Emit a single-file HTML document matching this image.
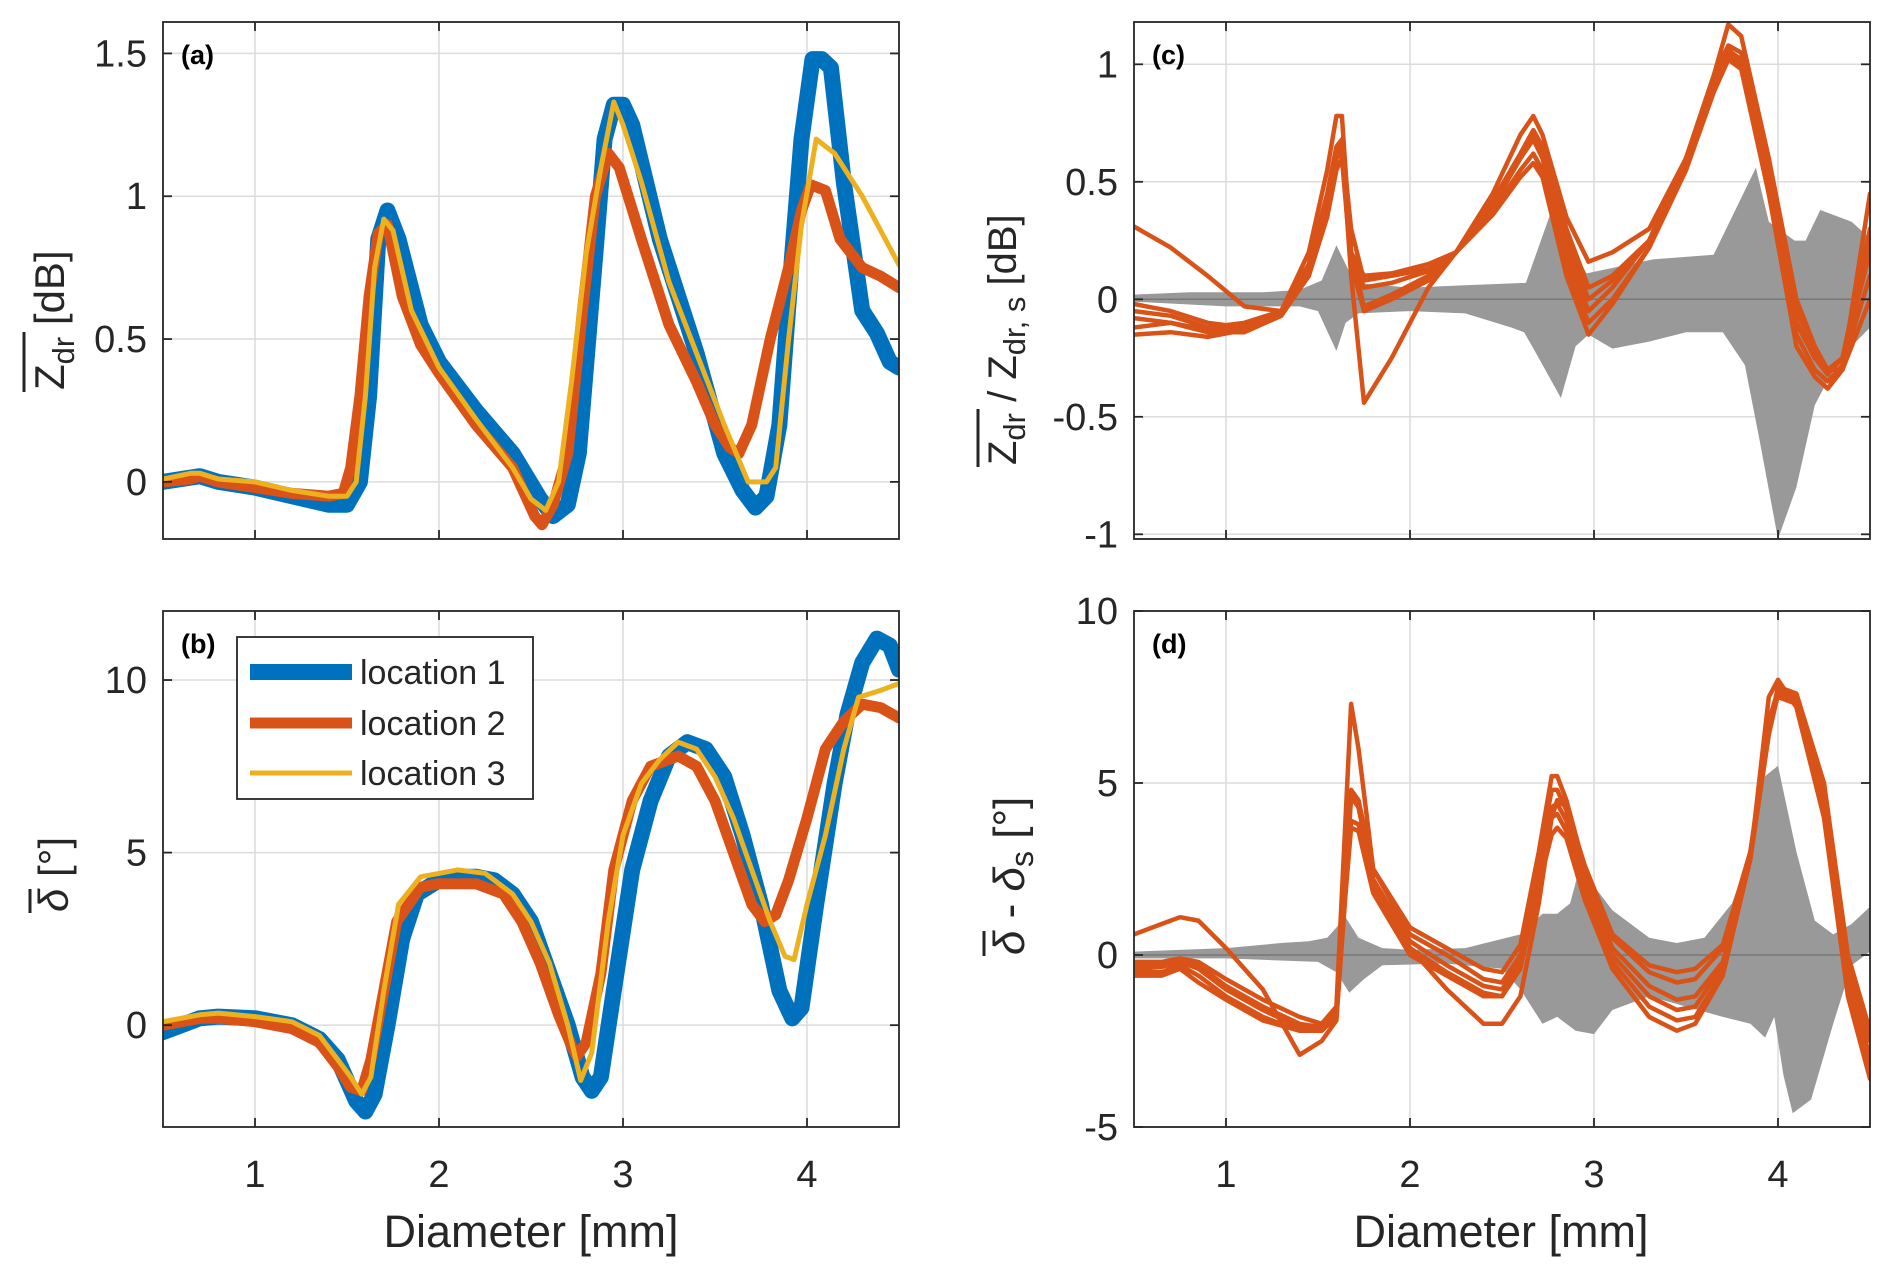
<!DOCTYPE html>
<html><head><meta charset="utf-8"><style>
html,body{margin:0;padding:0;background:#fff;}
svg{display:block;font-family:"Liberation Sans",Arial,sans-serif;}
</style></head><body>
<svg id="chart" width="1892" height="1277" viewBox="0 0 1892 1277" xmlns="http://www.w3.org/2000/svg"></svg>
<script>
// ---------- data ----------
const aD1 = [0.5,0.7,0.8,1.0,1.2,1.4,1.5,1.57,1.62,1.67,1.72,1.78,1.9,2.0,2.2,2.4,2.55,2.62,2.7,2.76,2.85,2.9,2.95,3.0,3.05,3.2,3.4,3.55,3.65,3.72,3.78,3.85,3.92,3.97,4.03,4.08,4.13,4.2,4.3,4.38,4.45,4.5];
const aLoc1 = [0,0.02,0,-0.02,-0.05,-0.08,-0.08,0,0.3,0.85,0.95,0.85,0.55,0.42,0.25,0.1,-0.06,-0.12,-0.08,0.1,0.8,1.2,1.32,1.32,1.25,0.85,0.45,0.1,-0.03,-0.09,-0.05,0.2,0.8,1.2,1.48,1.48,1.45,1.05,0.6,0.52,0.42,0.4];
const aD2 = [0.5,0.65,0.7,0.8,1.0,1.2,1.4,1.48,1.52,1.57,1.62,1.67,1.72,1.8,1.9,2.0,2.2,2.4,2.52,2.56,2.62,2.7,2.78,2.85,2.92,2.98,3.1,3.25,3.4,3.5,3.58,3.63,3.7,3.8,3.9,3.97,4.02,4.1,4.18,4.3,4.4,4.5];
const aLoc2 = [0,0.01,0.02,0,-0.02,-0.04,-0.05,-0.04,0.05,0.3,0.65,0.87,0.9,0.65,0.48,0.38,0.2,0.05,-0.12,-0.15,-0.08,0.1,0.6,1.0,1.15,1.1,0.85,0.55,0.35,0.2,0.12,0.1,0.2,0.5,0.75,0.95,1.04,1.02,0.85,0.75,0.72,0.68];
const aD3 = [0.5,0.65,0.7,0.8,1.0,1.2,1.4,1.5,1.55,1.6,1.65,1.7,1.75,1.85,2.0,2.2,2.4,2.5,2.58,2.65,2.72,2.8,2.88,2.95,3.0,3.1,3.25,3.4,3.55,3.68,3.78,3.83,3.9,3.97,4.05,4.15,4.3,4.5];
const aLoc3 = [0.01,0.03,0.03,0.01,0,-0.03,-0.05,-0.05,0,0.3,0.75,0.92,0.88,0.6,0.4,0.22,0.05,-0.06,-0.1,0,0.35,0.8,1.1,1.33,1.25,1.05,0.7,0.45,0.2,0,0,0.05,0.5,0.9,1.2,1.15,1.0,0.76];

const bD1 = [0.5,0.6,0.7,0.8,1.0,1.2,1.35,1.45,1.55,1.6,1.65,1.72,1.8,1.88,2.0,2.1,2.2,2.3,2.4,2.5,2.6,2.7,2.78,2.83,2.88,2.95,3.05,3.15,3.25,3.35,3.45,3.55,3.65,3.75,3.85,3.92,3.97,4.05,4.15,4.22,4.3,4.38,4.45,4.5];
const bLoc1 = [-0.2,0,0.2,0.25,0.2,0,-0.4,-1,-2.2,-2.5,-2,0,2.5,3.8,4.2,4.3,4.3,4.2,3.8,3,1.5,0,-1.5,-1.9,-1.5,1,4.5,6.5,7.8,8.2,8,7.2,5.5,3.5,1,0.2,0.5,3.5,7,9,10.5,11.2,11,10.3];
const bD2 = [0.5,0.7,0.8,1.0,1.2,1.35,1.45,1.52,1.58,1.63,1.7,1.77,1.9,2.0,2.2,2.35,2.45,2.55,2.65,2.72,2.75,2.8,2.88,2.95,3.05,3.15,3.3,3.4,3.5,3.6,3.7,3.77,3.83,3.9,4.0,4.1,4.2,4.3,4.4,4.5];
const bLoc2 = [0,0.2,0.2,0.1,-0.1,-0.5,-1.2,-1.8,-1.9,-1,1,3,4,4.1,4.1,3.8,3,1.8,0.3,-0.6,-0.9,-0.5,1.5,4.5,6.5,7.5,7.8,7.5,6.5,5,3.5,3,3.2,4.2,6,8,8.8,9.3,9.2,8.9];
const bD3 = [0.5,0.7,0.8,1.0,1.2,1.35,1.45,1.52,1.58,1.63,1.7,1.78,1.9,2.1,2.25,2.4,2.5,2.6,2.7,2.77,2.83,2.92,3.0,3.1,3.2,3.3,3.4,3.5,3.6,3.7,3.8,3.88,3.93,4.0,4.1,4.2,4.28,4.4,4.5];
const bLoc3 = [0.1,0.3,0.35,0.25,0.1,-0.3,-1,-1.5,-2,-1.5,1,3.5,4.3,4.5,4.4,3.8,3,1.8,0,-1.6,-0.8,3,5.5,7,7.7,8.2,8,7.2,6,4.5,3,2,1.9,3.5,5.5,8,9.5,9.7,9.9];

const cD = [0.5,0.7,0.9,1.1,1.3,1.45,1.55,1.6,1.63,1.68,1.75,1.9,2.1,2.25,2.45,2.6,2.67,2.72,2.85,2.97,3.1,3.3,3.5,3.65,3.73,3.8,3.95,4.1,4.2,4.27,4.35,4.5];
const cRun1 = [-0.02,-0.05,-0.1,-0.12,-0.05,0.2,0.55,0.78,0.78,0.2,0.1,0.11,0.15,0.2,0.45,0.7,0.78,0.7,0.35,0.16,0.2,0.3,0.6,0.95,1.17,1.12,0.6,0.0,-0.2,-0.3,-0.3,0.45];
const cRun2 = [-0.05,-0.07,-0.12,-0.1,-0.05,0.15,0.45,0.65,0.68,0.3,0.08,0.1,0.13,0.2,0.42,0.62,0.72,0.65,0.3,0.05,0.1,0.25,0.6,0.95,1.08,1.05,0.55,-0.05,-0.22,-0.3,-0.25,0.3];
const cRun3 = [-0.08,-0.1,-0.13,-0.12,-0.06,0.12,0.4,0.6,0.65,0.2,-0.03,0.02,0.1,0.2,0.4,0.6,0.68,0.6,0.2,-0.05,0.05,0.25,0.6,0.9,1.05,1.02,0.5,-0.1,-0.25,-0.32,-0.25,0.2];
const cRun4 = [-0.12,-0.1,-0.14,-0.14,-0.07,0.1,0.35,0.55,0.6,0.15,-0.05,0.0,0.08,0.2,0.38,0.55,0.62,0.55,0.15,-0.1,0.0,0.22,0.58,0.9,1.03,1.0,0.45,-0.15,-0.3,-0.35,-0.28,0.1];
const cRun5 = [-0.15,-0.14,-0.16,-0.13,-0.06,0.1,0.38,0.6,0.63,0.2,0.05,0.07,0.12,0.2,0.36,0.52,0.58,0.52,0.1,-0.15,-0.02,0.22,0.55,0.88,1.02,0.98,0.45,-0.2,-0.33,-0.38,-0.3,0.0];
const cRun6 = [0.31,0.22,0.1,-0.03,-0.05,0.12,0.38,0.6,0.66,0.1,-0.44,-0.25,0.05,0.2,0.4,0.6,0.7,0.62,0.25,0.0,0.08,0.25,0.6,0.92,1.06,1.02,0.5,-0.1,-0.25,-0.3,-0.25,0.25];
const cBandUD = [0.5,0.8,1.2,1.4,1.52,1.6,1.65,1.7,2.0,2.3,2.63,2.77,2.96,3.32,3.65,3.88,3.95,4.09,4.15,4.23,4.4,4.5];
const cBandU = [0.02,0.03,0.03,0.04,0.08,0.23,0.15,0.07,0.05,0.06,0.07,0.38,0.11,0.17,0.19,0.56,0.33,0.25,0.25,0.38,0.33,0.26];
const cBandLD = [0.5,1.0,1.4,1.5,1.6,1.65,1.72,2.0,2.3,2.55,2.62,2.7,2.82,2.9,2.97,3.1,3.3,3.5,3.7,3.82,3.9,4.0,4.1,4.2,4.3,4.4,4.5];
const cBandL = [-0.01,-0.03,-0.03,-0.05,-0.22,-0.1,-0.06,-0.05,-0.06,-0.12,-0.14,-0.25,-0.42,-0.2,-0.15,-0.21,-0.18,-0.14,-0.14,-0.28,-0.6,-1.02,-0.8,-0.45,-0.3,-0.2,-0.12];

const dD = [0.5,0.65,0.75,0.85,1.0,1.2,1.4,1.52,1.6,1.65,1.68,1.72,1.8,2.0,2.2,2.4,2.5,2.6,2.7,2.77,2.8,2.85,2.95,3.1,3.3,3.45,3.55,3.7,3.85,3.95,4.0,4.1,4.25,4.38,4.5];
const dRun1 = [-0.2,-0.2,-0.1,-0.2,-0.7,-1.3,-1.8,-2.0,-1.5,4,7.3,6,2.5,0.8,0.2,-0.4,-0.5,0.3,3,5.2,5.2,4.5,2.5,0.5,-0.5,-0.8,-0.7,0.2,3,6.5,7.8,7.6,5,0,-2.2];
const dRun2 = [-0.3,-0.25,-0.1,-0.3,-0.9,-1.5,-2.0,-2.1,-1.6,2.5,4.8,4.5,2.5,0.6,0.0,-0.7,-0.8,0,2.8,4.8,4.8,4.2,2.2,0.2,-0.9,-1.3,-1.2,-0.2,3,6.5,7.6,7.5,4.5,-0.5,-3.0];
const dRun3 = [-0.4,-0.35,-0.2,-0.4,-1.0,-1.6,-2.1,-2.2,-1.7,2.5,4.6,4.3,2.2,0.4,-0.3,-0.9,-1.0,-0.2,2.5,4.3,4.4,3.9,2,0,-1.2,-1.6,-1.5,-0.3,2.8,6.4,7.6,7.4,4.2,-0.8,-3.3];
const dRun4 = [-0.5,-0.5,-0.3,-0.6,-1.2,-1.8,-2.2,-2.2,-1.8,2,3.9,3.8,2,0.2,-0.5,-1.1,-1.2,-0.3,2.3,4.0,4.1,3.6,1.8,-0.2,-1.5,-1.9,-1.8,-0.5,2.8,6.8,7.5,7.3,4,-1.0,-3.5];
const dRun5 = [-0.6,-0.6,-0.4,-0.8,-1.3,-1.9,-2.2,-2.0,-1.8,1.8,3.7,3.6,1.8,0.0,-0.6,-1.2,-1.2,-0.4,2,3.5,3.7,3.4,1.6,-0.4,-1.8,-2.2,-2.0,-0.6,2.8,7.5,8.0,7.2,4,-1.2,-3.6];
const dRun6 = [0.6,0.9,1.1,1.0,0.2,-1.0,-2.9,-2.5,-1.9,2,4.6,4.3,2.2,0.2,-1.0,-2.0,-2.0,-1.2,1.5,4.0,4.5,4.3,2.6,0.6,-0.3,-0.5,-0.4,0.3,3.0,6.8,7.7,7.4,4.5,-0.3,-2.5];
const dBandUD = [0.5,1.0,1.3,1.45,1.55,1.65,1.72,1.85,2.0,2.3,2.6,2.72,2.8,2.87,2.92,3.0,3.1,3.3,3.45,3.6,3.75,3.85,3.93,4.0,4.1,4.2,4.3,4.4,4.5];
const dBandU = [0.1,0.2,0.35,0.4,0.5,1.1,0.5,0.2,0.15,0.2,0.6,1.2,1.2,1.5,2.5,2.0,1.3,0.5,0.35,0.5,1.5,3.0,5.2,5.5,3,1.0,0.6,0.9,1.4];
const dBandLD = [0.5,1.0,1.5,1.6,1.67,1.75,1.85,2.2,2.5,2.6,2.72,2.8,2.9,3.0,3.1,3.3,3.5,3.7,3.85,3.93,3.98,4.03,4.08,4.18,4.3,4.4,4.5];
const dBandL = [-0.1,-0.1,-0.2,-0.5,-1.1,-0.7,-0.3,-0.25,-0.4,-1.0,-2.0,-1.8,-2.2,-2.3,-1.6,-1.2,-1.5,-1.8,-2.0,-2.4,-1.8,-3.5,-4.6,-4.2,-2,-0.3,0.1];

const xTicks = [1,2,3,4];
const aTicks = [0,0.5,1,1.5], aTickLabels = ["0","0.5","1","1.5"];
const bTicks = [0,5,10], bTickLabels = ["0","5","10"];
const cTicks = [-1,-0.5,0,0.5,1], cTickLabels = ["-1","-0.5","0","0.5","1"];
const dTicks = [-5,0,5,10], dTickLabels = ["-5","0","5","10"];

// ---------- drawing ----------
const NS = "http://www.w3.org/2000/svg";
const svg = document.getElementById('chart');
function el(tag, attrs, parent){ const e=document.createElementNS(NS,tag); for(const k in attrs) e.setAttribute(k,attrs[k]); (parent||svg).appendChild(e); return e; }
const BLUE="#0072BD", RED="#D95319", YEL="#EDB120", GREY="#999999";

function makePanel(name, x0,x1,y0,y1, ymin,ymax, yticks,ylabels, showXLabels, letter){
  const g = el('g',{});
  
  
  const sx = d => x0 + (d-0.5)/4*(x1-x0);
  const sy = v => y1 - (v-ymin)/(ymax-ymin)*(y1-y0);
  const clipId = name+'-clip';
  const cp = el('clipPath',{id:clipId},g); el('rect',{x:x0,y:y0,width:x1-x0,height:y1-y0},cp);
  xTicks.forEach(t=>{ const l=el('line',{x1:sx(t),x2:sx(t),y1:y0,y2:y1,stroke:'#dcdcdc','stroke-width':1.5},g);
      });
  yticks.forEach(t=>{ const l=el('line',{x1:x0,x2:x1,y1:sy(t),y2:sy(t),stroke:'#dcdcdc','stroke-width':1.5},g);
      });
  const plot = el('g',{'clip-path':`url(#${clipId})`},g);
   
  const box = el('rect',{x:x0,y:y0,width:x1-x0,height:y1-y0,fill:'none',stroke:'#262626','stroke-width':1.8},g);
   
  xTicks.forEach(t=>{
    el('line',{x1:sx(t),x2:sx(t),y1:y1,y2:y1-9,stroke:'#262626','stroke-width':1.8},g);
    el('line',{x1:sx(t),x2:sx(t),y1:y0,y2:y0+9,stroke:'#262626','stroke-width':1.8},g);
    if(showXLabels){ const tx=el('text',{x:sx(t),y:y1+60,'font-size':38,'text-anchor':'middle',fill:'#262626'},g); tx.textContent=t;
        }
  });
  yticks.forEach((t,i)=>{
    el('line',{x1:x0,x2:x0+9,y1:sy(t),y2:sy(t),stroke:'#262626','stroke-width':1.8},g);
    el('line',{x1:x1,x2:x1-9,y1:sy(t),y2:sy(t),stroke:'#262626','stroke-width':1.8},g);
    const tx=el('text',{x:x0-16,y:sy(t)+13,'font-size':38,'text-anchor':'end',fill:'#262626'},g); tx.textContent=ylabels[i];
     
  });
  const lt=el('text',{x:x0+18,y:y0+42,'font-size':27,'font-weight':'bold',fill:'#000'},g); lt.textContent=letter;
   
  return {g,plot,sx,sy};
}
function line(p, xs, ys, color, w, name){
  const d = xs.map((x,i)=>(i?'L':'M')+p.sx(x).toFixed(1)+','+p.sy(ys[i]).toFixed(1)).join('');
  const path = el('path',{d, fill:'none', stroke:color, 'stroke-width':w, 'stroke-linejoin':'round','stroke-linecap':'round'}, p.plot);
  
  
}
function band(p, ux, uy, lx, ly, name){
  let d = ux.map((x,i)=>(i?'L':'M')+p.sx(x).toFixed(1)+','+p.sy(uy[i]).toFixed(1)).join('');
  for(let i=lx.length-1;i>=0;i--) d += 'L'+p.sx(lx[i]).toFixed(1)+','+p.sy(ly[i]).toFixed(1);
  const path = el('path',{d:d+'Z', fill:GREY, stroke:'none'}, p.plot);
  
  
}

const A = makePanel('panel-a-zdr', 163,899,22,539, -0.2,1.61, aTicks,aTickLabels,false,'(a)');
line(A,aD1,aLoc1,BLUE,16,'line-location-1');
line(A,aD2,aLoc2,RED,11,'line-location-2');
line(A,aD3,aLoc3,YEL,5,'line-location-3');

const B = makePanel('panel-b-delta', 163,899,611,1127, -2.95,12, bTicks,bTickLabels,true,'(b)');
line(B,bD1,bLoc1,BLUE,16,'line-location-1');
line(B,bD2,bLoc2,RED,11,'line-location-2');
line(B,bD3,bLoc3,YEL,5,'line-location-3');

const C = makePanel('panel-c-zdr-diff', 1134,1870,22,539, -1.02,1.18, cTicks,cTickLabels,false,'(c)');
band(C,cBandUD,cBandU,cBandLD,cBandL,'spread-band');
el('line',{x1:1134,x2:1870,y1:C.sy(0),y2:C.sy(0),stroke:'#777','stroke-width':1.5},C.plot);
[cRun1,cRun2,cRun3,cRun4,cRun5,cRun6].forEach(r=>line(C,cD,r,RED,4.5,'difference-line'));

const Dp = makePanel('panel-d-delta-diff', 1134,1870,611,1127, -5,10, dTicks,dTickLabels,true,'(d)');
band(Dp,dBandUD,dBandU,dBandLD,dBandL,'spread-band');
el('line',{x1:1134,x2:1870,y1:Dp.sy(0),y2:Dp.sy(0),stroke:'#777','stroke-width':1.5},Dp.plot);
[dRun1,dRun2,dRun3,dRun4,dRun5,dRun6].forEach(r=>line(Dp,dD,r,RED,4.5,'difference-line'));
</script>

<svg style="position:absolute;left:0;top:0" width="1892" height="1277" xmlns="http://www.w3.org/2000/svg" font-family="Liberation Sans, Arial, sans-serif" fill="#262626">
  <text x="531" y="1247" font-size="45" text-anchor="middle">Diameter [mm]</text>
  <text x="1501" y="1247" font-size="45" text-anchor="middle">Diameter [mm]</text>

  <g transform="translate(64,280) rotate(-90)">
    <text x="-110" y="0" font-size="42">Z<tspan font-size="31" dy="10">dr</tspan><tspan dy="-10"> [dB]</tspan></text>
    <line x1="-112" x2="-52" y1="-40" y2="-40" stroke="#262626" stroke-width="3"/>
  </g>
  <g transform="translate(68,862) rotate(-90)">
    <text x="-50" y="0" font-size="42"><tspan font-style="italic">δ</tspan> [°]</text>
    <line x1="-51" x2="-27" y1="-38" y2="-38" stroke="#262626" stroke-width="3"/>
  </g>
  <g transform="translate(1016,295) rotate(-90)">
    <text x="-170" y="0" font-size="40">Z<tspan font-size="31" dy="9">dr</tspan><tspan dy="-9">  /  Z</tspan><tspan font-size="31" dy="9">dr, s</tspan><tspan dy="-9">  [dB]</tspan></text>
    <line x1="-172" x2="-114" y1="-38" y2="-38" stroke="#262626" stroke-width="3"/>
  </g>
  <g transform="translate(1024,865) rotate(-90)">
    <text x="-90" y="0" font-size="44"><tspan font-style="italic">δ</tspan> - <tspan font-style="italic">δ</tspan><tspan font-size="32" dy="9">s</tspan><tspan dy="-9">  [°]</tspan></text>
    <line x1="-91" x2="-66" y1="-40" y2="-40" stroke="#262626" stroke-width="3"/>
  </g>

  <g>
    <rect x="237" y="637" width="296" height="162" fill="#fff" stroke="#262626" stroke-width="1.8"/>
    <g>
      <line x1="250" x2="352" y1="672" y2="672" stroke="#0072BD" stroke-width="16"/>
      <text x="360" y="684" font-size="34">location 1</text>
    </g>
    <g>
      <line x1="250" x2="352" y1="723" y2="723" stroke="#D95319" stroke-width="11"/>
      <text x="360" y="735" font-size="34">location 2</text>
    </g>
    <g>
      <line x1="250" x2="352" y1="773" y2="773" stroke="#EDB120" stroke-width="5"/>
      <text x="360" y="785" font-size="34">location 3</text>
    </g>
  </g>
</svg>
</body></html>
